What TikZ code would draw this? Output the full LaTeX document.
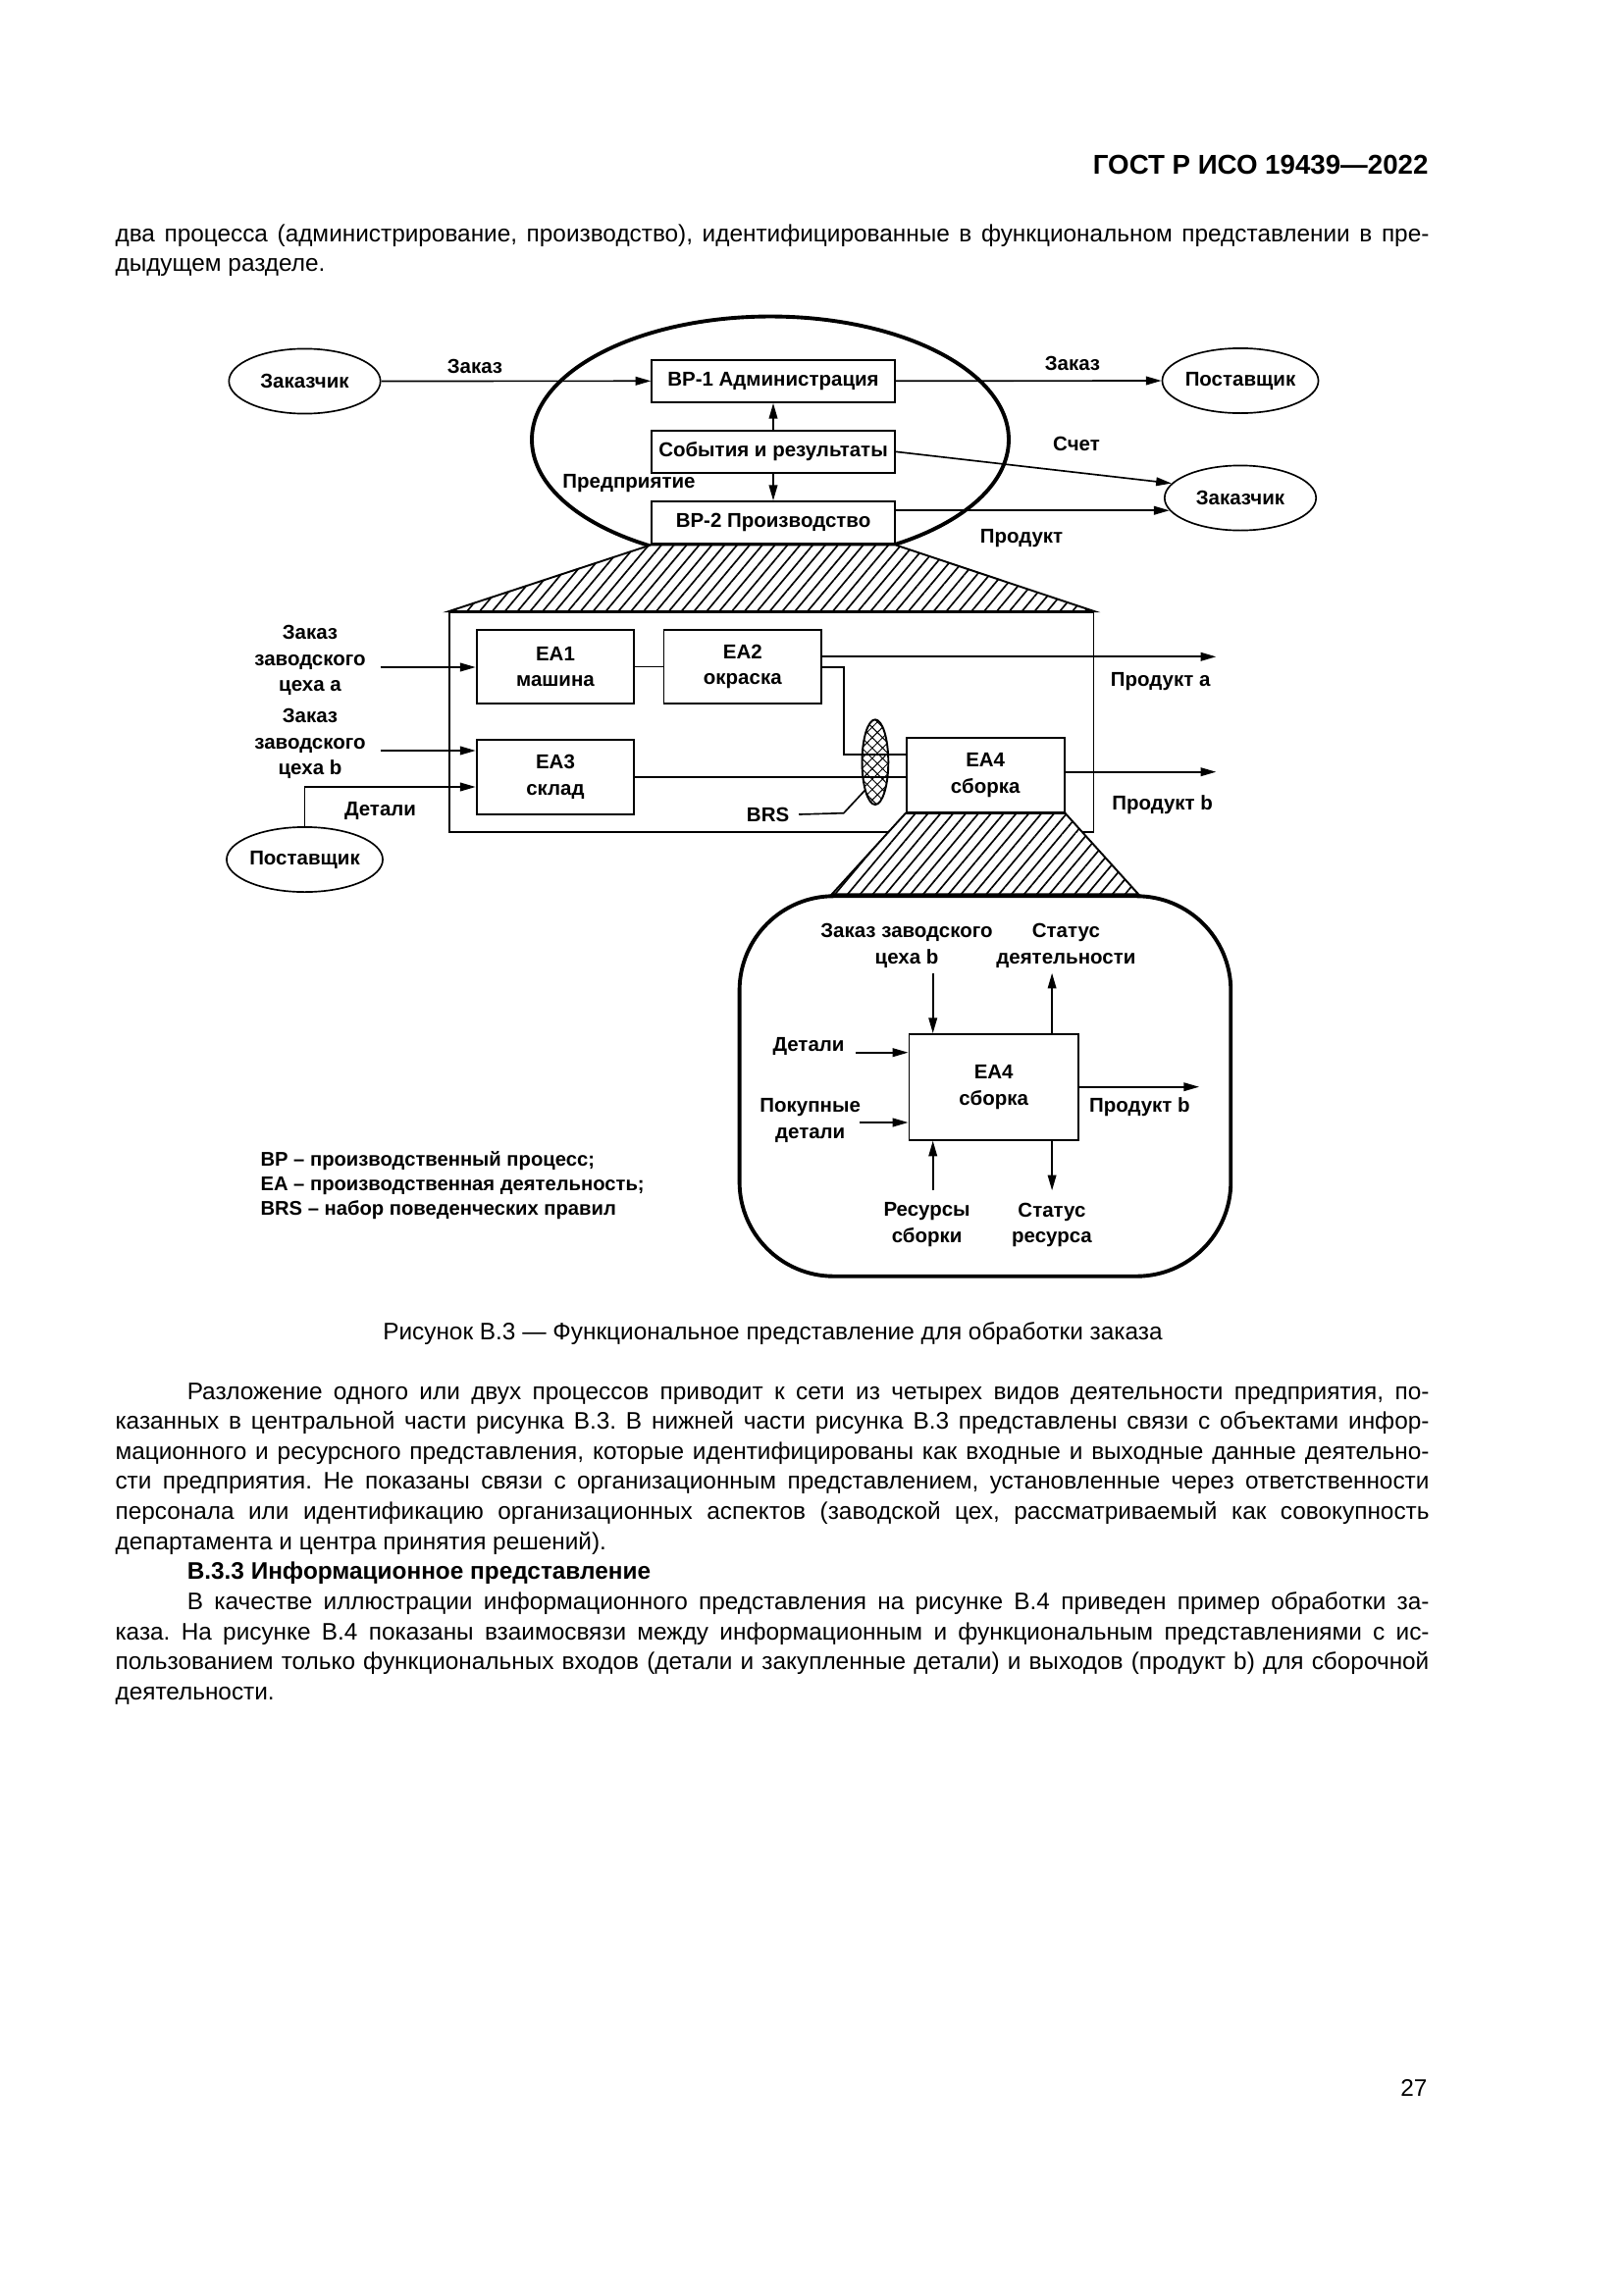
\documentclass[tikz,border=0pt]{standalone}
\usepackage{fontspec}
\setmainfont{Liberation Sans}
\usetikzlibrary{positioning}
\usetikzlibrary{shapes.geometric,arrows.meta,patterns.meta,backgrounds}

\newcommand{\dgm}{\fontsize{7.4}{9.6}\selectfont\bfseries}
\newcommand{\bodyfont}{\fontsize{8.8}{11.07}\selectfont}
\frenchspacing

\begin{document}
\begin{tikzpicture}[x=0.126965mm,y=-0.126965mm,
  box/.style={draw,line width=0.7pt,fill=white,inner sep=0,align=center,font=\dgm},
  actor/.style={ellipse,draw,line width=0.6pt,fill=white,inner sep=0,minimum width=19.6mm,minimum height=8.4mm,font=\dgm},
  lbl/.style={inner sep=0,align=center,font=\dgm},
  para/.style={inner sep=0,text width=170mm,align=justify,font=\bodyfont},
  flow/.style={-{Triangle[length=2mm,width=1.1mm]},line width=0.6pt},
  wire/.style={line width=0.6pt},
  hatched/.style={draw,line width=0.7pt,preaction={fill=white},pattern={Lines[angle=50,distance=1.25mm,line width=0.6pt]}}]
\useasboundingbox (0,0) rectangle (1654,2339);

% page text
\node[anchor=base east,inner sep=0,font=\fontsize{10}{12}\selectfont\bfseries] (head) at (1456,178) {ГОСТ Р ИСО 19439—2022};
\node[para,anchor=base west] (intro) at (117,246) {два процесса (администрирование, производство), идентифицированные в функциональном представлении в пре-\linebreak дыдущем разделе.};

% enterprise level
\node[actor] (zak1) at (310.5,388.5) {Заказчик};
\node[actor] (post1) at (1264,388) {Поставщик};
\node[actor] (zak2) at (1264,507.5) {Заказчик};

\node[box,minimum width=31.4mm,minimum height=5.5mm] (bp1) at (788,388.3) {BP-1 Администрация};
\node[box,minimum width=31.4mm,minimum height=5.5mm,below=3.4mm of bp1] (events) {События и результаты};
\node[box,minimum width=31.4mm,minimum height=5.5mm,below=3.45mm of events] (bp2) {BP-2 Производство};

\node[lbl] (ent) at (641,493) {Предприятие};
\node[lbl] (ordlbl1) at (484,373) {Заказ};
\node[lbl] (ordlbl2) at (1093,370) {Заказ};
\node[lbl] (billlbl) at (1097,452) {Счет};
\node[lbl] (prodlbl) at (1041,549) {Продукт};

\draw[flow] (zak1.east) -- (bp1.west);
\draw[flow] (bp1.east) -- (post1.west);
\draw[flow] (events.east) -- (zak2.168);
\draw[flow] (bp2.east |- zak2.190) -- (zak2.190);
\draw[flow] (events.north) -- (bp1.south);
\draw[flow] (events.south) -- (bp2.north);

% activity network
\node[box,minimum width=20.4mm,minimum height=9.6mm] (ea1) at (566,679.5) {EA1\\машина};
\node[box,minimum width=20.4mm,minimum height=9.6mm,right=3.58mm of ea1] (ea2) {EA2\\окраска};
\node[box,minimum width=20.4mm,minimum height=9.6mm,below=4.44mm of ea1] (ea3) {EA3\\склад};
\node[box,minimum width=20.4mm,minimum height=9.6mm] (ea4) at (1004.2,790) {EA4\\сборка};
\node[ellipse,draw,line width=0.7pt,inner sep=0,minimum width=3.4mm,minimum height=11mm,
  pattern={Hatch[angle=45,distance=0.95mm,line width=0.35pt]}] (brs) at (891.9,776.7) {};

\node[lbl] (orda) at (316,673.3) {Заказ\\заводского\\цеха a};
\node[lbl] (ordb) at (316,758.3) {Заказ\\заводского\\цеха b};
\node[actor] (post2) at (310.5,876) {Поставщик};
\node[lbl] (partlbl) at (387.5,826) {Детали};
\node[lbl] (brslbl) at (782.6,830) {BRS};
\node[lbl] (prodalbl) at (1182.7,694.3) {Продукт a};
\node[lbl] (prodblbl) at (1184.6,820) {Продукт b};

\coordinate (ina) at (387.5,680);
\coordinate (inb) at (387.5,765);
\coordinate (partbend) at (310.5,802);
\coordinate (outa) at (1239.3,669.3);
\coordinate (outb) at (1239.3,786.7);
\coordinate (ea2bend) at (860,680);
\coordinate (ea2down) at (860,769);
\coordinate (brsbend) at (859.8,828.7);

\draw[flow] (ina) -- (ina -| ea1.west);
\draw[flow] (inb) -- (inb -| ea3.west);
\draw[flow] (post2.north) -- (partbend) -- (partbend -| ea3.west);
\draw[wire] (ea1.east) -- (ea2.west);
\draw[flow] (ea2.east |- outa) -- (outa);
\draw[wire] (ea2.east |- ea2bend) -- (ea2bend) -- (ea2down) -- (ea2down -| ea4.west);
\draw[wire] (ea3.east) -- (ea3.east -| ea4.west);
\draw[flow] (ea4.east |- outb) -- (outb);
\draw[wire] ([xshift=1.2mm]brslbl.east) -- (brsbend) -- (brs.250);

% detail of EA4
\node[draw,line width=1.4pt,rounded corners=12.2mm,minimum width=63.57mm,minimum height=49.19mm,inner sep=0] (detail) at (1003.95,1107) {};
\node[box,minimum width=21.9mm,minimum height=13.67mm] (ea4in) at (1012.7,1107.9) {EA4\\сборка};

\node[lbl] (ordc) at (924,964) {Заказ заводского\\цеха b};
\node[lbl] (actst) at (1086.4,964) {Статус\\деятельности};
\node[lbl] (partc) at (824,1066.7) {Детали};
\node[lbl] (buyc) at (825.7,1141.7) {Покупные\\детали};
\node[lbl] (prodc) at (1161.4,1128.3) {Продукт b};
\node[lbl] (resc) at (944.6,1248.3) {Ресурсы\\сборки};
\node[lbl] (resst) at (1072,1248.3) {Статус\\ресурса};

\coordinate (cin) at (950.7,991.7);
\coordinate (cout) at (1072.1,991.7);
\coordinate (pin1) at (872,1072.7);
\coordinate (pin2) at (875.7,1144);
\coordinate (pout) at (1222,1107.7);
\coordinate (rin) at (950.7,1213.3);
\coordinate (rout) at (1072.1,1213.3);

\draw[flow] (cin) -- (cin |- ea4in.north);
\draw[flow] (cout |- ea4in.north) -- (cout);
\draw[flow] (pin1) -- (pin1 -| ea4in.west);
\draw[flow] (pin2) -- (pin2 -| ea4in.west);
\draw[flow] (pout -| ea4in.east) -- (pout);
\draw[flow] (rin) -- (rin |- ea4in.south);
\draw[flow] (rout |- ea4in.south) -- (rout);

\node[anchor=west,inner sep=0,align=left,font=\fontsize{7.3}{9}\selectfont\bfseries] (legend) at (265,1208.3)
  {BP – производственный процесс;\\EA – производственная деятельность;\\BRS – набор поведенческих правил};

\begin{scope}[on background layer]
\fill[white] (0,0) rectangle (1654,2339);
\draw[line width=1.4pt] (785,448) ellipse [x radius=30.85mm,y radius=15.93mm];
\node[draw,line width=0.6pt,minimum width=83.37mm,minimum height=28.48mm,inner sep=0] (frame) at (786.3,736.15) {};
\draw[hatched] (bp2.south west) -- (bp2.south east) -- (frame.north east) -- (frame.north west) -- cycle;
\draw[hatched] (ea4.south west) -- (ea4.south east) -- ([xshift=-12.2mm]detail.north east) -- ([xshift=12.2mm]detail.north west) -- cycle;
\end{scope}

% caption and text below
\node[anchor=base,inner sep=0,font=\bodyfont] (caption) at (787.5,1365) {Рисунок В.3 — Функциональное представление для обработки заказа};
\node[para,anchor=base west] (body) at (117,1426) {\hspace*{9.3mm}Разложение одного или двух процессов приводит к сети из четырех видов деятельности предприятия, по-\linebreak казанных в центральной части рисунка В.3. В нижней части рисунка В.3 представлены связи с объектами инфор-\linebreak мационного и ресурсного представления, которые идентифицированы как входные и выходные данные деятельно-\linebreak сти предприятия. Не показаны связи с организационным представлением, установленные через ответственности\linebreak персонала или идентификацию организационных аспектов (заводской цех, рассматриваемый как совокупность\linebreak департамента и центра принятия решений).\par
\hspace*{9.3mm}\textbf{В.3.3 Информационное представление}\par
\hspace*{9.3mm}В качестве иллюстрации информационного представления на рисунке В.4 приведен пример обработки за-\linebreak каза. На рисунке В.4 показаны взаимосвязи между информационным и функциональным представлениями с ис-\linebreak пользованием только функциональных входов (детали и закупленные детали) и выходов (продукт b) для сборочной\linebreak деятельности.};
\node[anchor=base east,inner sep=0,font=\bodyfont] (pageno) at (1455,2136) {27};
\end{tikzpicture}
\end{document}
